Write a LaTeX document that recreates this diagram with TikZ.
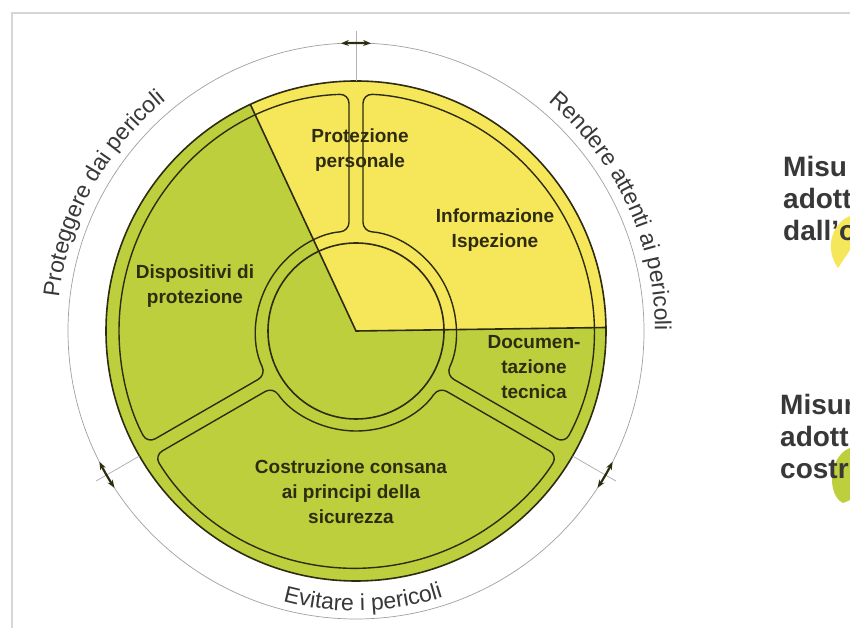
\documentclass[tikz,border=0pt]{standalone}
\usepackage{fontspec}
\setmainfont{Liberation Sans}
\usepackage{tikz}
\usetikzlibrary{arrows.meta,decorations.text}
\definecolor{DiscGreen}{HTML}{BDCF3C}
\definecolor{DiscYellow}{HTML}{F6E65A}
\definecolor{RimLine}{HTML}{2E2C10}
\definecolor{FrameGray}{HTML}{D6D6D6}
\definecolor{LabelGray}{HTML}{383838}

\begin{document}
\begin{tikzpicture}[
  x=1pt,y=1pt,
  rim/.style={draw=RimLine,line width=1.6pt},
  cell/.style={draw=RimLine,line width=1.4pt,rounded corners=9pt},
  guide/.style={draw=gray!75,line width=0.7pt},
  tickline/.style={draw=gray!60,line width=0.8pt},
  tickmark/.style={draw=RimLine,line width=2.2pt,{Stealth[length=8pt,width=6pt]}-{Stealth[length=8pt,width=6pt]}},
  celltext/.style={font=\fontsize{19}{25}\selectfont\bfseries,text=RimLine,align=center},
  sidetext/.style={font=\fontsize{28}{32}\selectfont\bfseries,text=LabelGray,align=left,anchor=north west,inner sep=0pt},
  arclabel/.style={decorate,decoration={text along path,text align=center,text color=LabelGray,text={|\fontsize{23}{27}\selectfont|#1}}}
]
\useasboundingbox (0,0) rectangle (850,628);
\clip (0,0) rectangle (850,628);
\draw[FrameGray,line width=1.5pt] (850,615) -- (12,615) -- (12,0);

% colour patches behind the side texts
\fill[DiscYellow] (850,412) .. controls (838,408) and (829,392) .. (831,378) .. controls (832,370) and (835,364) .. (838,360) .. controls (842,366) and (846,372) .. (850,378) -- cycle;
\fill[DiscGreen] (850,180) .. controls (838,176) and (831,160) .. (832,146) .. controls (833,134) and (838,127) .. (843,125) .. controls (846,126) and (848,127) .. (850,128) -- cycle;

\begin{scope}[shift={(356,297)}]
  % disc and the yellow sector
  \fill[DiscGreen] (0,0) circle[radius=250];
  \fill[DiscYellow] (0,0) -- (0.8:250) arc[start angle=0.8,end angle=115,radius=250] -- cycle;
  \draw[rim] (0,0) circle[radius=250];
  \draw[rim] (115:250) -- (0,0) -- (0.8:250);
  % three cells around the hub
  \draw[cell] (91.7:237) arc[start angle=91.7,end angle=208.3,radius=237] -- (206:100) arc[start angle=206,end angle=94,radius=100] -- cycle;
  \draw[cell] (-28.3:237) arc[start angle=-28.3,end angle=88.3,radius=237] -- (86:100) arc[start angle=86,end angle=-26,radius=100] -- cycle;
  \draw[cell] (211.7:237) arc[start angle=211.7,end angle=328.3,radius=237] -- (326:100) arc[start angle=326,end angle=214,radius=100] -- cycle;
  \draw[rim] (0,0) circle[radius=88];
  % outer ring with its dividers
  \draw[guide] (0,0) circle[radius=288];
  \foreach \a in {90,210,330} {
    \draw[tickline] (\a:250) -- (\a:300);
    \draw[tickmark] (\a-3:288) arc[start angle=\a-3,end angle=\a+3,radius=288];
  }
  \path[arclabel=Proteggere dai pericoli] (178:299) arc[start angle=178,end angle=125,radius=299];
  \path[arclabel=Rendere attenti ai pericoli] (57:299) arc[start angle=57,end angle=-7,radius=299];
  \path[arclabel=Evitare i pericoli] (243:280) arc[start angle=243,end angle=300,radius=280];
\end{scope}

\node[celltext] (perso) at (360,478) {Protezione\\personale};
\node[celltext] (info) at (495,398) {Informazione\\Ispezione};
\node[celltext] (dispo) at (195,342) {Dispositivi di\\protezione};
\node[celltext] (docu) at (534,261) {Documen-\\tazione\\tecnica};
\node[celltext] (costr) at (351,136) {Costruzione consana\\ai principi della\\sicurezza};

\node[sidetext] (byuser) at (783,472) {Misu\\adott\\dall'o};
\node[sidetext] (bymaker) at (780,234) {Misur\\adott\\costr};
\end{tikzpicture}
\end{document}
